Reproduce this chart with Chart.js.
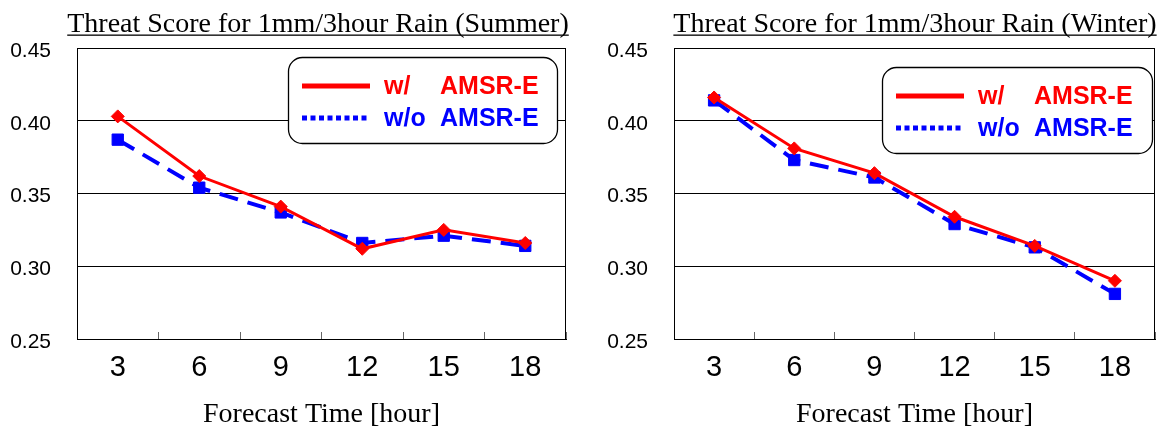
<!DOCTYPE html>
<html>
<head>
<meta charset="utf-8">
<script src="https://cdn.jsdelivr.net/npm/chart.js@4.4.0/dist/chart.umd.min.js"></script>
<style>
  html, body { margin: 0; padding: 0; background: #fff; }
  #wrap { position: relative; width: 1164px; height: 427px; overflow: hidden; }
  canvas { position: absolute; top: 0; }
  #summer { left: 0; }
  #winter { left: 597px; }
</style>
</head>
<body>
<div id="wrap">
  <canvas id="summer" width="597" height="427"></canvas>
  <canvas id="winter" width="567" height="427"></canvas>
</div>
<script>
// --- Data ---
const hours = ["3", "6", "9", "12", "15", "18"];
const yTicks = [0.25, 0.30, 0.35, 0.40, 0.45];
const seriesNames = ["w/ AMSR-E", "w/o AMSR-E"];

const summerWith    = [0.403, 0.362, 0.341, 0.312, 0.325, 0.316];
const summerWithout = [0.387, 0.354, 0.337, 0.316, 0.321, 0.314];
const winterWith    = [0.416, 0.381, 0.364, 0.334, 0.314, 0.290];
const winterWithout = [0.414, 0.373, 0.361, 0.329, 0.313, 0.281];

const SANS = "'Liberation Sans', Arial, sans-serif";
const SERIF = "'Liberation Serif', 'Times New Roman', serif";

// --- Plugins ---
// frame around the plot area (right side has no axis)
const frame = {
  id: "frame",
  beforeDatasetsDraw(chart) {
    const { ctx, chartArea: a } = chart;
    ctx.save();
    ctx.strokeStyle = "#000";
    ctx.lineWidth = 1;
    ctx.strokeRect(Math.round(a.left) + 0.5, Math.round(a.top) + 0.5,
      Math.round(a.right - a.left) - 1, Math.round(a.bottom - a.top));
    ctx.restore();
  }
};

// underlined title
const plotTitle = {
  id: "plotTitle",
  afterDraw(chart, args, o) {
    const ctx = chart.ctx;
    ctx.save();
    ctx.font = `28px ${SERIF}`;
    ctx.fillStyle = "#000";
    ctx.textAlign = "center";
    ctx.textBaseline = "alphabetic";
    ctx.fillText(o.text, o.x, o.y);
    const w = ctx.measureText(o.text).width;
    ctx.fillRect(o.x - w / 2, o.y + 2.5, w, 1.3);
    ctx.restore();
  }
};

// boxed legend inside the plot
const boxLegend = {
  id: "boxLegend",
  afterDraw(chart, args, o) {
    const ctx = chart.ctx;
    ctx.save();
    ctx.beginPath();
    ctx.roundRect(o.x + 0.5, o.y + 0.5, o.w, o.h, 14);
    ctx.fillStyle = "#fff";
    ctx.fill();
    ctx.lineWidth = 1.3;
    ctx.strokeStyle = "#000";
    ctx.stroke();
    ctx.font = `bold 25px ${SANS}`;
    ctx.textBaseline = "middle";
    chart.data.datasets.forEach((ds, i) => {
      const y = o.y + 29 + i * 32;
      ctx.beginPath();
      ctx.setLineDash(i === 0 ? [] : [5, 3.5]);
      ctx.lineWidth = 5;
      ctx.strokeStyle = ds.borderColor;
      ctx.moveTo(o.x + 14, y);
      ctx.lineTo(o.x + 82, y);
      ctx.stroke();
      ctx.setLineDash([]);
      const parts = ds.label.split(" ");
      ctx.fillStyle = ds.borderColor;
      ctx.fillText(parts[0], o.x + 96, y + 1);
      ctx.fillText(parts.slice(1).join(" "), o.x + 152, y + 1);
    });
    ctx.restore();
  }
};

// --- Chart ---
function makeChart(id, title, withVals, withoutVals, legendBox, padRight) {
  return new Chart(document.getElementById(id), {
    type: "line",
    data: {
      labels: hours,
      datasets: [
        {
          label: seriesNames[0],
          data: withVals,
          borderColor: "#ff0000",
          backgroundColor: "#ff0000",
          borderWidth: 3,
          pointStyle: "rectRot",
          pointRadius: 6.5,
          pointBorderWidth: 1,
          tension: 0,
          order: 0
        },
        {
          label: seriesNames[1],
          data: withoutVals,
          borderColor: "#0000ff",
          backgroundColor: "#0000ff",
          borderWidth: 4,
          borderDash: [19, 10],
          pointStyle: "rect",
          pointRadius: 8,
          pointBorderWidth: 1,
          tension: 0,
          order: 1
        }
      ]
    },
    options: {
      responsive: false,
      animation: false,
      devicePixelRatio: 1,
      layout: { padding: { top: 48, right: padRight, left: 0, bottom: 0 } },
      plugins: {
        legend: { display: false },
        tooltip: { enabled: false },
        plotTitle: { text: title, x: 318, y: 32 },
        boxLegend: legendBox
      },
      scales: {
        x: {
          type: "category",
          offset: true,
          grid: {
            display: true, drawOnChartArea: false, drawTicks: true,
            tickLength: -7, offset: true, color: "#666", lineWidth: 1
          },
          border: { display: true, color: "#000", width: 1 },
          ticks: {
            color: "#000", font: { family: SANS, size: 29 },
            padding: 19, maxRotation: 0, autoSkip: false
          },
          title: {
            display: true, text: "Forecast Time [hour]", color: "#000",
            font: { family: SERIF, size: 28, lineHeight: 0.86 }, padding: 0
          },
          afterFit: s => { s.height = 88; }
        },
        y: {
          min: 0.25,
          max: 0.45,
          afterBuildTicks: s => { s.ticks = yTicks.map(v => ({ value: v })); },
          grid: { color: "#000", lineWidth: 1, drawTicks: false },
          border: { display: true, color: "#000", width: 1 },
          ticks: {
            color: "#000", font: { family: SANS, size: 21 },
            padding: 26, labelOffset: 3,
            callback: v => v.toFixed(2)
          },
          afterFit: s => { s.width = 77; }
        }
      }
    },
    plugins: [frame, plotTitle, boxLegend]
  });
}

makeChart("summer", "Threat Score for 1mm/3hour Rain (Summer)",
  summerWith, summerWithout, { x: 288, y: 57, w: 269, h: 86 }, 31);
makeChart("winter", "Threat Score for 1mm/3hour Rain (Winter)",
  winterWith, winterWithout, { x: 285, y: 67, w: 270, h: 86 }, 1);
</script>
</body>
</html>
